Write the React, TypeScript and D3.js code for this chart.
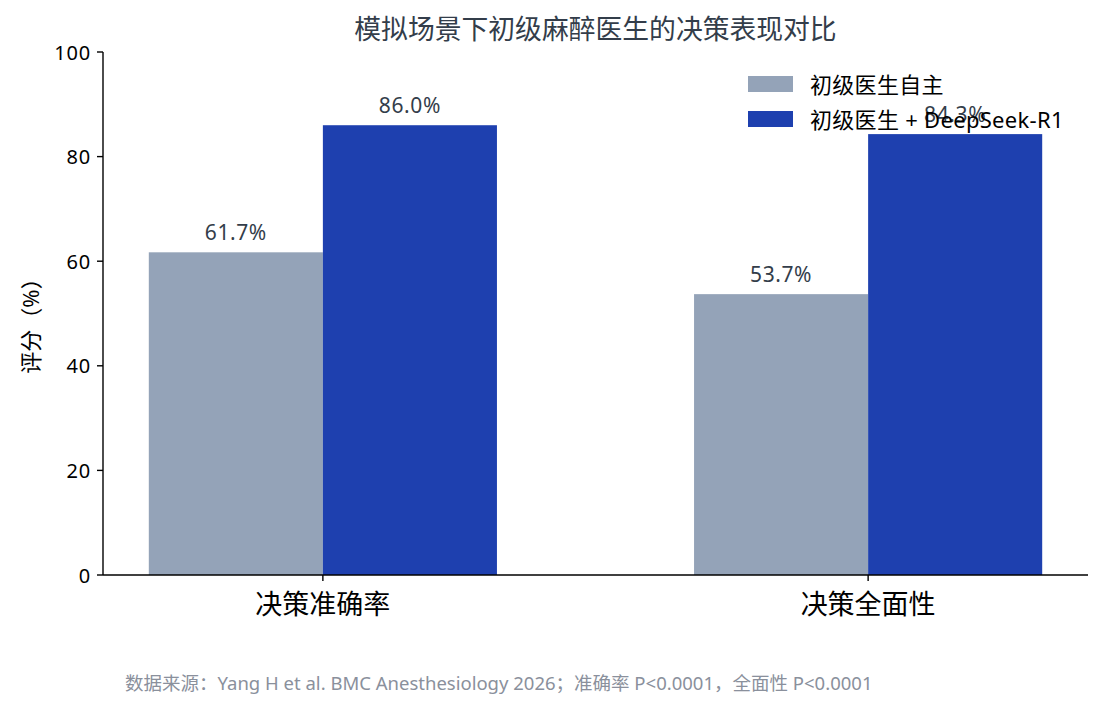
import * as d3 from "d3";

const CATEGORIES = ["决策准确率", "决策全面性"];
const SERIES = ["初级医生自主", "初级医生 + DeepSeek-R1"];
const SELF_VALUES = [61.7, 53.7];
const AI_VALUES = [86.0, 84.3];
const Y_TICKS = [0, 20, 40, 60, 80, 100];
const COLORS = ["#94a3b8", "#1e40af"];

const TITLE = "模拟场景下初级麻醉医生的决策表现对比";
const Y_LABEL = "评分（%）";
const NOTE =
  "数据来源：Yang H et al. BMC Anesthesiology 2026；准确率 P<0.0001，全面性 P<0.0001";

const W = 1104;
const H = 710;
const FONT = "'Noto Sans', 'Noto Sans CJK SC', sans-serif";
const PLOT = { left: 103, right: 1088, top: 52, bottom: 575 };

export default function App() {
  const x = d3
    .scaleBand<string>()
    .domain(CATEGORIES)
    .range([PLOT.left, PLOT.right])
    .paddingInner(0.3615)
    .paddingOuter(0.084);

  const inner = d3
    .scaleBand<number>()
    .domain([0, 1])
    .range([0, x.bandwidth()]);

  const y = d3.scaleLinear().domain([0, 100]).range([PLOT.bottom, PLOT.top]);

  const seriesValues = [SELF_VALUES, AI_VALUES];

  return (
    <svg
      width={W}
      height={H}
      style={{ display: "block", position: "absolute", left: 0, top: 0, background: "#fff" }}
      fontFamily={FONT}
    >
      <text
        x={(PLOT.left + PLOT.right) / 2}
        y={39}
        textAnchor="middle"
        fontSize={26.8}
        fill="#333d4a"
      >
        {TITLE}
      </text>

      {/* bars */}
      {seriesValues.map((vals, s) => (
        <g key={s}>
          {CATEGORIES.map((c, i) => {
            const bx = x(c)! + inner(s)!;
            return (
              <rect
                key={c}
                x={bx}
                y={y(vals[i])}
                width={inner.bandwidth()}
                height={y(0) - y(vals[i])}
                fill={COLORS[s]}
              />
            );
          })}
        </g>
      ))}

      {/* value labels */}
      {seriesValues.map((vals, s) =>
        CATEGORIES.map((c, i) => (
          <text
            key={`${s}-${c}`}
            x={x(c)! + inner(s)! + inner.bandwidth() / 2}
            y={y(vals[i]) - 12}
            textAnchor="middle"
            fontSize={21}
            letterSpacing={0.6}
            fill="#333d4a"
          >
            {vals[i].toFixed(1)}%
          </text>
        )),
      )}

      {/* y axis */}
      <line x1={PLOT.left} y1={PLOT.top} x2={PLOT.left} y2={PLOT.bottom} stroke="#000" strokeWidth={1.4} />
      {Y_TICKS.map((t) => (
        <g key={t}>
          <line x1={PLOT.left - 6} x2={PLOT.left} y1={y(t)} y2={y(t)} stroke="#000" strokeWidth={1.4} />
          <text
            x={PLOT.left - 12}
            y={y(t)}
            textAnchor="end"
            dominantBaseline="central"
            fontSize={20}
            letterSpacing={0.8}
            fill="#000"
          >
            {t}
          </text>
        </g>
      ))}
      <text
        transform={`translate(30, ${(PLOT.top + PLOT.bottom) / 2 + 7}) rotate(-90)`}
        textAnchor="middle"
        dominantBaseline="central"
        fontSize={22}
        fill="#000"
      >
        {Y_LABEL}
      </text>

      {/* x axis */}
      <line x1={PLOT.left} y1={PLOT.bottom} x2={PLOT.right} y2={PLOT.bottom} stroke="#000" strokeWidth={1.4} />
      {CATEGORIES.map((c) => {
        const cx = x(c)! + x.bandwidth() / 2;
        return (
          <g key={c}>
            <line x1={cx} x2={cx} y1={PLOT.bottom} y2={PLOT.bottom + 6} stroke="#000" strokeWidth={1.4} />
            <text x={cx} y={614} textAnchor="middle" fontSize={27} fill="#000">
              {c}
            </text>
          </g>
        );
      })}

      {/* legend */}
      {SERIES.map((name, i) => {
        const ly = 84 + i * 35;
        return (
          <g key={name}>
            <rect x={748} y={ly - 8} width={45} height={16} fill={COLORS[i]} />
            <text x={810} y={ly} dominantBaseline="central" fontSize={22} letterSpacing={0.3} fill="#000">
              {name}
            </text>
          </g>
        );
      })}

      <text x={125} y={690} fontSize={18.5} fill="#8a909c">
        {NOTE}
      </text>
    </svg>
  );
}
